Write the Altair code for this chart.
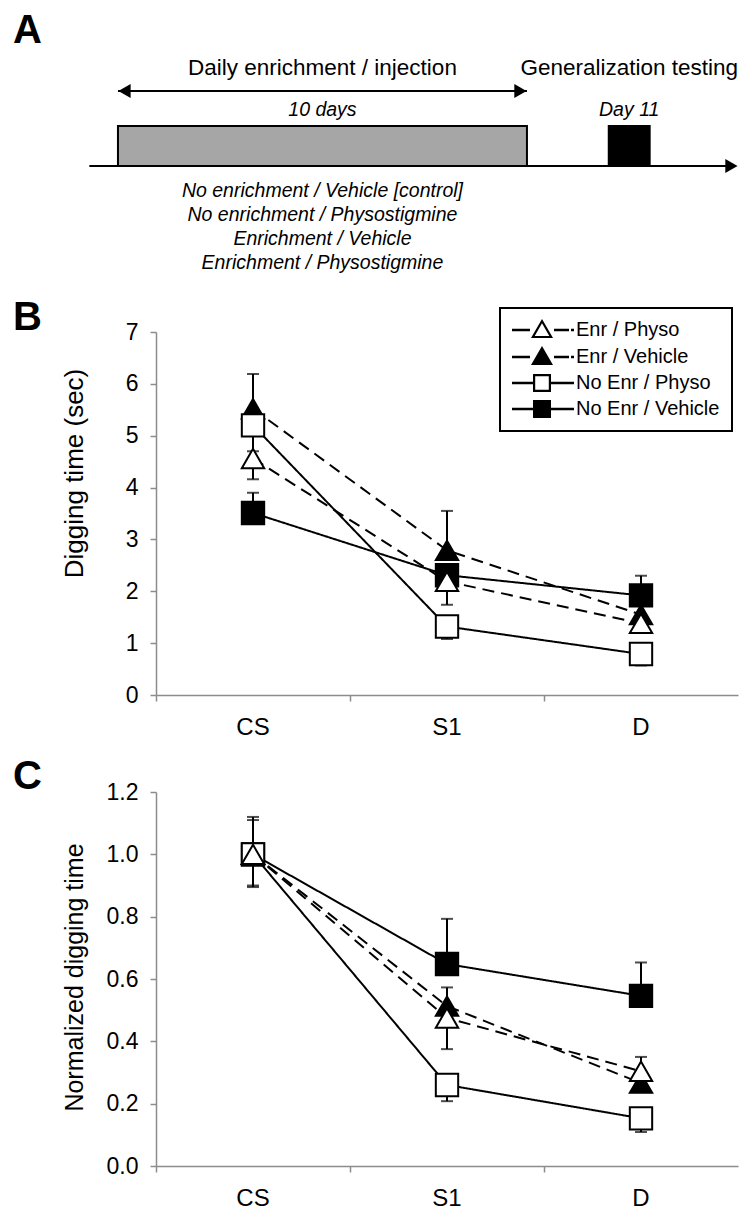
import altair as alt
import pandas as pd

# ---------------- shared categories ----------------
stimuli = ["CS", "S1", "D"]
groups = ["Enr / Physo", "Enr / Vehicle", "No Enr / Physo", "No Enr / Vehicle"]
group_shapes = ["triangle-up", "triangle-up", "square", "square"]
group_fills = ["white", "black", "white", "black"]
group_sizes = [500, 500, 300, 300]
group_dash = [[12, 7], [12, 7], [1, 0], [1, 0]]
group_rank = [4, 2, 3, 1]          # drawing order (higher = on top)
err_sign = [-1, 1, -1, 1]          # one-sided error bars: minus for Physo, plus for Vehicle

# legend glyphs (line + marker), drawn as filled outlines
_dash = "M-1,-0.13H0.8V0.13H-1Z M3.2,-0.13H4.7V0.13H3.2Z M4.9,-0.13H5.2V0.13H4.9Z "
_solid = "M-1,-0.13H1.1V0.13H-1Z M2.9,-0.13H5.2V0.13H2.9Z "
_tri = "M2,-1.1L3.1,0.8L0.9,0.8Z "
_tri_hole = "M2,-0.68L1.27,0.59L2.73,0.59Z"
_sq = "M1.1,-0.9H2.9V0.9H1.1Z "
_sq_hole = "M1.32,-0.68V0.68H2.68V-0.68Z"
legend_paths = [
    _dash + _tri + _tri_hole,
    _dash + _tri,
    _solid + _sq + _sq_hole,
    _solid + _sq,
]

# ---------------- Panel B: digging time (sec) ----------------
b_enr_physo = [4.56, 2.19, 1.38]
b_enr_vehicle = [5.52, 2.79, 1.55]
b_noenr_physo = [5.20, 1.32, 0.79]
b_noenr_vehicle = [3.51, 2.31, 1.92]
b_err_enr_physo = [0.40, 0.45, 0.10]
b_err_enr_vehicle = [0.67, 0.76, 0.25]
b_err_noenr_physo = [0.50, 0.24, 0.22]
b_err_noenr_vehicle = [0.39, 0.20, 0.38]

# ---------------- Panel C: normalized digging time ----------------
c_enr_physo = [1.00, 0.475, 0.304]
c_enr_vehicle = [1.00, 0.513, 0.266]
c_noenr_physo = [1.00, 0.260, 0.153]
c_noenr_vehicle = [1.00, 0.648, 0.546]
c_err_enr_physo = [0.100, 0.100, 0.030]
c_err_enr_vehicle = [0.110, 0.060, 0.084]
c_err_noenr_physo = [0.105, 0.052, 0.044]
c_err_noenr_vehicle = [0.120, 0.145, 0.107]

# ---------------- Panel A: design schematic ----------------
phase_names = ["Daily enrichment / injection", "Generalization testing"]
phase_start = [0, 12]
phase_end = [10, 13]
phase_duration = ["10 days", "Day 11"]
phase_fill = ["#a6a6a6", "black"]
conditions = [
    "No enrichment / Vehicle [control]",
    "No enrichment / Physostigmine",
    "Enrichment / Vehicle",
    "Enrichment / Physostigmine",
]

FONT = "Liberation Sans"
AXIS_GRAY = "#8c8c8c"
PLOT_W = 582
LETTER_X = -143


def long_df(vals, errs):
    rows = []
    for gi, g in enumerate(groups):
        for si, s in enumerate(stimuli):
            v = vals[gi][si]
            e = errs[gi][si]
            rows.append(dict(stim=s, si=si, group=g, value=v,
                             err_end=v + err_sign[gi] * e, rank=group_rank[gi]))
    return pd.DataFrame(rows).sort_values(["rank", "si"]).reset_index(drop=True)


def letter_layer(letter, ybase):
    return alt.Chart(pd.DataFrame({"letter": [letter]})).mark_text(
        fontSize=40, fontWeight="bold", font=FONT, color="black",
        align="left", baseline="alphabetic").encode(
        x=alt.value(LETTER_X), y=alt.value(ybase), text="letter:N")


def panel(df, ydomain, yvalues, yfmt, ytitle, tsize, height, title_y, letter, ybase, legend):
    xaxis = alt.Axis(title=None, bandPosition=0, labelFontSize=24, labelColor="black",
                     labelFont=FONT, labelPadding=14, labelAngle=0, tickSize=6,
                     domainColor=AXIS_GRAY, tickColor=AXIS_GRAY, domainWidth=1.5,
                     tickWidth=1.5, grid=False)
    x = alt.X("stim:N", sort=stimuli, bandPosition=0.5,
              scale=alt.Scale(type="band", domain=stimuli, paddingInner=0, paddingOuter=0),
              axis=xaxis)
    yaxis = alt.Axis(values=yvalues, format=yfmt, title=ytitle, titleFontSize=tsize,
                     titleFont=FONT, titleFontWeight="normal", titleColor="black",
                     titleAngle=270, titleX=-82, titleY=title_y, titleAlign="center",
                     titleBaseline="middle", labelFontSize=23, labelFont=FONT,
                     labelColor="black", labelPadding=12, tickSize=6,
                     domainColor=AXIS_GRAY, tickColor=AXIS_GRAY, domainWidth=1.5,
                     tickWidth=1.5, grid=False)
    yscale = alt.Scale(domain=ydomain, nice=False, zero=False)
    y = alt.Y("value:Q", scale=yscale, axis=yaxis)
    yerr = alt.Y("err_end:Q", scale=yscale, axis=yaxis)

    base = alt.Chart(df)
    lines = base.mark_line(color="black", strokeWidth=2).encode(
        x=x, y=y, detail="group:N", order=alt.Order("si:Q"),
        strokeDash=alt.StrokeDash("group:N", scale=alt.Scale(domain=groups, range=group_dash),
                                  legend=None))
    rules = base.mark_rule(color="black", strokeWidth=2).encode(x=x, y=y, y2="err_end:Q")
    caps = base.mark_tick(color="black", thickness=2, size=12).encode(x=x, y=yerr)
    points = base.mark_point(filled=True, opacity=1, stroke="black", strokeWidth=2).encode(
        x=x, y=y,
        shape=alt.Shape("group:N", scale=alt.Scale(domain=groups, range=group_shapes), legend=None),
        fill=alt.Fill("group:N", scale=alt.Scale(domain=groups, range=group_fills), legend=None),
        size=alt.Size("group:N", scale=alt.Scale(domain=groups, range=group_sizes), legend=None),
        order=alt.Order("rank:Q"))
    layers = [lines, rules, caps, points, letter_layer(letter, ybase)]
    if legend:
        leg = alt.Legend(title=None, orient="none", legendX=344, legendY=-24,
                         symbolSize=400, symbolStrokeWidth=0, symbolFillColor="black",
                         symbolOpacity=1, labelFontSize=20, labelFont=FONT,
                         labelColor="black", labelOffset=44, rowPadding=6, padding=12,
                         strokeColor="black", fillColor="white", labelLimit=400)
        legend_layer = base.mark_point(filled=True, color="black", opacity=1).encode(
            x=x, y=y,
            shape=alt.Shape("group:N", scale=alt.Scale(domain=groups, range=legend_paths), legend=leg),
        ).transform_filter("false")
        layers.append(legend_layer)
    ch = alt.layer(*layers).properties(width=PLOT_W, height=height)
    if legend:
        ch = ch.resolve_scale(shape="independent")
    return ch


# ---------------- Panel A ----------------
A_H = 226
ax = alt.Scale(domain=[0.93, 15.16], nice=False, zero=False)
ay = alt.Scale(domain=[-2.85, 2.8], nice=False, zero=False)

tl_start = phase_start[0] - 0.7
tl_end = phase_end[-1] + 2.0
timeline_df = pd.DataFrame({"x": [tl_start], "x2": [tl_end], "y": [0.0]})
timeline = alt.Chart(timeline_df).mark_rule(color="black", strokeWidth=2).encode(
    x=alt.X("x:Q", scale=ax, axis=None), x2="x2:Q", y=alt.Y("y:Q", scale=ay, axis=None))
tl_head = alt.Chart(pd.DataFrame({"x": [tl_end], "y": [0.0]})).mark_point(
    shape="triangle-right", filled=True, color="black", size=200, opacity=1).encode(
    x=alt.X("x:Q", scale=ax, axis=None), y=alt.Y("y:Q", scale=ay, axis=None))

darrow_df = pd.DataFrame({"x": [phase_start[0]], "x2": [phase_end[0]], "y": [1.875]})
darrow = alt.Chart(darrow_df).mark_rule(color="black", strokeWidth=2).encode(
    x=alt.X("x:Q", scale=ax, axis=None), x2="x2:Q", y=alt.Y("y:Q", scale=ay, axis=None))
head_l = alt.Chart(pd.DataFrame({"x": [phase_start[0] + 0.16], "y": [1.875]})).mark_point(
    shape="triangle-left", filled=True, color="black", size=200, opacity=1).encode(
    x=alt.X("x:Q", scale=ax, axis=None), y=alt.Y("y:Q", scale=ay, axis=None))
head_r = alt.Chart(pd.DataFrame({"x": [phase_end[0] - 0.16], "y": [1.875]})).mark_point(
    shape="triangle-right", filled=True, color="black", size=200, opacity=1).encode(
    x=alt.X("x:Q", scale=ax, axis=None), y=alt.Y("y:Q", scale=ay, axis=None))

phase_df = pd.DataFrame({"phase": phase_names, "start": phase_start, "end": phase_end,
                         "dur": phase_duration, "y0": 0.0, "y1": 1.0, "fill": phase_fill})
phase_df["mid"] = (phase_df["start"] + phase_df["end"]) / 2
phase_df["ty"] = 2.45
phase_df["dy"] = 1.4
rects = alt.Chart(phase_df).mark_rect(stroke="black", strokeWidth=2).encode(
    x=alt.X("start:Q", scale=ax, axis=None), x2="end:Q",
    y=alt.Y("y0:Q", scale=ay, axis=None), y2="y1:Q",
    fill=alt.Fill("fill:N", scale=None))
heads_text = alt.Chart(phase_df).mark_text(fontSize=22.5, font=FONT, color="black",
                                            baseline="middle", align="center").encode(
    x=alt.X("mid:Q", scale=ax, axis=None), y=alt.Y("ty:Q", scale=ay, axis=None), text="phase:N")
dur_text = alt.Chart(phase_df).mark_text(fontSize=19.5, font=FONT, fontStyle="italic", color="black",
                                          baseline="middle", align="center").encode(
    x=alt.X("mid:Q", scale=ax, axis=None), y=alt.Y("dy:Q", scale=ay, axis=None), text="dur:N")
cond_df = pd.DataFrame({"cond": conditions,
                        "x": [(phase_start[0] + phase_end[0]) / 2] * len(conditions),
                        "y": [-0.625 - 0.6 * i for i in range(len(conditions))]})
cond_text = alt.Chart(cond_df).mark_text(fontSize=19.5, font=FONT, fontStyle="italic", color="black",
                                          baseline="middle", align="center").encode(
    x=alt.X("x:Q", scale=ax, axis=None), y=alt.Y("y:Q", scale=ay, axis=None), text="cond:N")

panel_a = alt.layer(rects, timeline, tl_head, darrow, head_l, head_r, heads_text, dur_text,
                    cond_text, letter_layer("A", -11)).properties(width=PLOT_W, height=A_H)

# ---------------- Panels B and C ----------------
b_df = long_df([b_enr_physo, b_enr_vehicle, b_noenr_physo, b_noenr_vehicle],
               [b_err_enr_physo, b_err_enr_vehicle, b_err_noenr_physo, b_err_noenr_vehicle])
c_df = long_df([c_enr_physo, c_enr_vehicle, c_noenr_physo, c_noenr_vehicle],
               [c_err_enr_physo, c_err_enr_vehicle, c_err_noenr_physo, c_err_noenr_vehicle])

panel_b = panel(b_df, [0, 7], [0, 1, 2, 3, 4, 5, 6, 7], "d", "Digging time (sec)", 26,
                363, 141, "B", -2, True)
panel_c = panel(c_df, [0, 1.2], [0, 0.2, 0.4, 0.6, 0.8, 1.0, 1.2], ".1f",
                "Normalized digging time", 25, 374, 185, "C", -3, False)

chart = alt.vconcat(panel_a, panel_b, panel_c, spacing=18).resolve_scale(
    shape="independent", fill="independent", size="independent", strokeDash="independent"
).properties(
    padding={"left": 5, "top": 3, "right": 0, "bottom": 0}
).configure(font=FONT).configure_view(stroke=None).configure_legend(strokeWidth=2)

chart.save("out.html", embed_options={"renderer": "svg", "actions": False})
